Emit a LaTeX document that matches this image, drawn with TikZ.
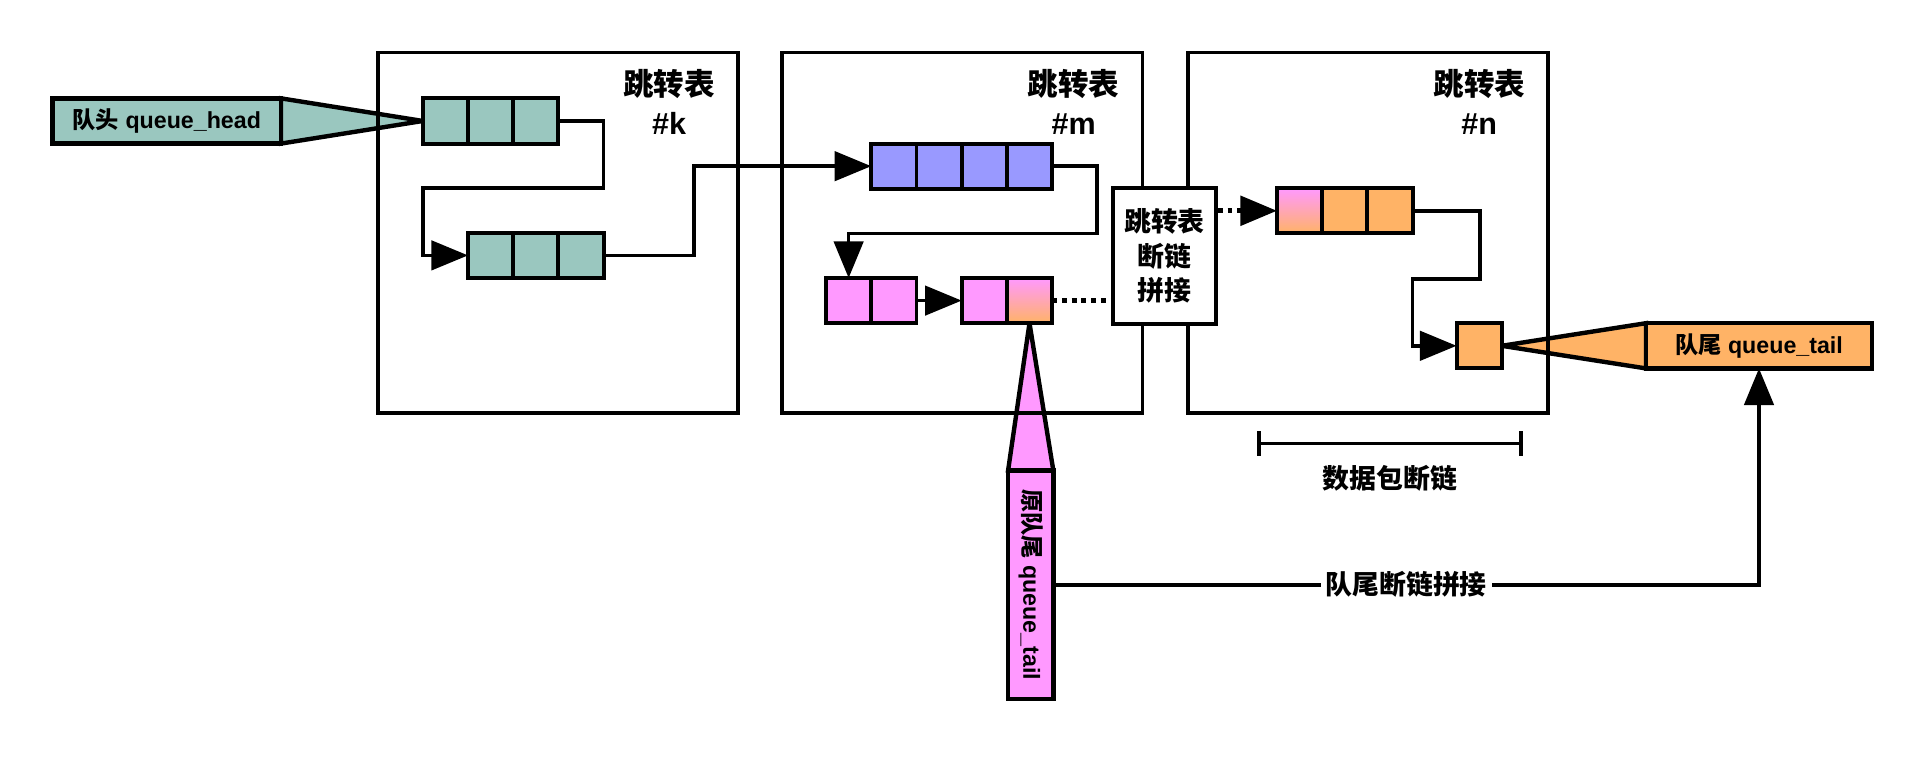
\documentclass[tikz,border=0pt]{standalone}
\usepackage{fontspec}
\setmainfont{Liberation Sans}
\newfontfamily\cjk{Noto Sans CJK SC}
\usetikzlibrary{positioning, arrows.meta, calc}
\pgfdeclarelayer{background}
\pgfsetlayers{background,main}
\definecolor{headgreen}{HTML}{9AC7BF}
\definecolor{listblue}{HTML}{9999FF}
\definecolor{oldpink}{HTML}{FF99FF}
\definecolor{tailorange}{HTML}{FFB366}
\tikzset{
    cell/.style={draw, line width=1.6pt, minimum size=18.5pt, inner sep=0pt, outer sep=0pt},
    mixcell/.style={cell, top color=oldpink, bottom color=tailorange},
    tablebox/.style={draw, line width=1.6pt, minimum size=147.5pt, inner sep=0pt},
    tabletitle/.style={font=\bfseries\fontsize{12.5}{16}\selectfont, align=center},
    pointer/.style={draw, line width=1.8pt, inner sep=0pt, outer sep=0pt, minimum height=18.5pt, font=\bfseries\fontsize{9.5}{11}\selectfont},
    tip/.style={draw, line width=1.8pt, line join=miter},
    link/.style={line width=1.5pt, -{Triangle[length=15pt, width=12pt]}},
    gap/.style={line width=2pt, dash pattern=on 2pt off 2pt},
    cjklabel/.style={font=\cjk\bfseries\fontsize{11}{13}\selectfont},
}

\begin{document}
\begin{tikzpicture}[x=0.5pt, y=-0.5pt]
    \useasboundingbox (0,0) rectangle (1568,636);

    % jump tables
    \node[tablebox] (tabk) at (456.5,190.5) {};
    \node[tablebox] (tabm) at (787.5,190.5) {};
    \node[tablebox] (tabn) at (1119.5,190.5) {};
    \node[tabletitle] at ($(tabk.north east)+(-58,42)$) {{\cjk 跳转表}\\\#k};
    \node[tabletitle] at ($(tabm.north east)+(-58,42)$) {{\cjk 跳转表}\\\#m};
    \node[tabletitle] at ($(tabn.north east)+(-58,42)$) {{\cjk 跳转表}\\\#n};

    % packets of #k
    \node[cell, fill=headgreen] (ka1) at (364.5,99) {};
    \node[cell, fill=headgreen, right=0pt of ka1] (ka2) {};
    \node[cell, fill=headgreen, right=0pt of ka2] (ka3) {};
    \node[cell, fill=headgreen] (kb1) at (401.5,209) {};
    \node[cell, fill=headgreen, right=0pt of kb1] (kb2) {};
    \node[cell, fill=headgreen, right=0pt of kb2] (kb3) {};

    % packets of #m
    \node[cell, fill=listblue] (mb1) at (731.5,136) {};
    \node[cell, fill=listblue, right=0pt of mb1] (mb2) {};
    \node[cell, fill=listblue, right=0pt of mb2] (mb3) {};
    \node[cell, fill=listblue, right=0pt of mb3] (mb4) {};
    \node[cell, fill=oldpink] (mc1) at (694.5,246) {};
    \node[cell, fill=oldpink, right=0pt of mc1] (mc2) {};
    \node[cell, fill=oldpink] (md1) at (805.5,246) {};
    \node[mixcell, right=0pt of md1] (md2) {};

    % packets of #n
    \node[mixcell] (na1) at (1063.5,172.5) {};
    \node[cell, fill=tailorange, right=0pt of na1] (na2) {};
    \node[cell, fill=tailorange, right=0pt of na2] (na3) {};
    \node[cell, fill=tailorange] (nb) at (1210.5,283) {};

    \node[draw, line width=1.6pt, fill=white, minimum width=42pt, minimum height=55.5pt,
      inner sep=0pt, align=center, font=\cjk\bfseries\fontsize{11}{14}\selectfont]
      (splice) at (953,209.5) {跳转表\\断链\\拼接};

    % queue pointers
    \node[pointer, fill=headgreen, minimum width=93.5pt] (qhead) at (136.5,99)
      {{\cjk 队头} queue\_head};
    \node[pointer, fill=tailorange, minimum width=92.5pt] (qtail) at (1439.5,283)
      {{\cjk 队尾} queue\_tail};
    \node[pointer, fill=oldpink, minimum width=18.5pt, minimum height=93.5pt] (otail) at (843.5,478.5)
      {\rotatebox{-90}{{\cjk 原队尾} queue\_tail}};
    \begin{pgfonlayer}{background}
      \draw[tip, fill=headgreen] (qhead.north east) -- (ka1.west) -- (qhead.south east) -- cycle;
      \draw[tip, fill=tailorange] (qtail.north west) -- (nb.east) -- (qtail.south west) -- cycle;
      \draw[tip, fill=oldpink] (otail.north west) -- (md2.south) -- (otail.north east) -- cycle;
    \end{pgfonlayer}

    % links
    \draw[link] (ka3.east) -| ++(37,55) -| (ka1.west |- kb1.west) -- (kb1.west);
    \draw[link] (kb3.east) -- ++(74,0) |- (mb1.west);
    \draw[link] (mb4.east) -| ++(37,55) -| (mc1.north);
    \draw[link] (mc2.east) -- (md1.west);
    \draw[gap] (md2.east) -- (md2.east -| splice.west);
    \draw[gap, -{Triangle[length=15pt, width=12pt]}] (splice.east |- na1.west) -- (na1.west);
    \draw[link] (na3.east) -| ++(55,56) -| (na3.east |- nb.west) -- (nb.west);
    \draw[link] (otail.east) -| (qtail.south)
      node[pos=0.25, fill=white, inner sep=2pt, cjklabel] {队尾断链拼接};

    % broken packet chain
    \coordinate (cut-l) at (1029,363);
    \coordinate (cut-r) at (1246,363);
    \draw[line width=1.5pt, {Bar[width=10pt]}-{Bar[width=10pt]}] (cut-l) -- (cut-r)
      node[midway, below=5pt, cjklabel] {数据包断链};
\end{tikzpicture}
\end{document}
